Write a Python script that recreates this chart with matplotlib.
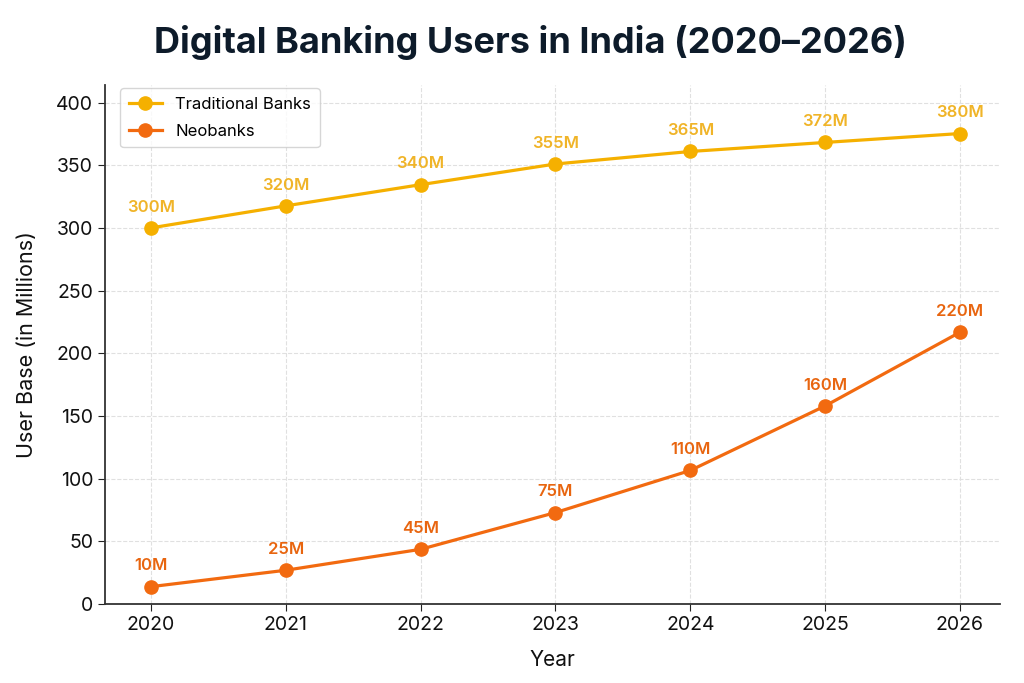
import matplotlib
matplotlib.use("Agg")
import matplotlib.pyplot as plt

years = [2020, 2021, 2022, 2023, 2024, 2025, 2026]
traditional = [300, 317.6, 334.5, 351, 361, 368.2, 375.3]
neobanks = [13.8, 26.9, 43.6, 72.9, 106.5, 158, 216.8]
traditional_labels = ["300M", "320M", "340M", "355M", "365M", "372M", "380M"]
neobank_labels = ["10M", "25M", "45M", "75M", "110M", "160M", "220M"]
yticks = [0, 50, 100, 150, 200, 250, 300, 350, 400]

plt.rcParams['font.family'] = ['Inter', 'DejaVu Sans']

c_trad = "#F5B000"
c_neo = "#F26A10"
c_trad_txt = "#F0B428"
c_neo_txt = "#E8650F"

fig = plt.figure(figsize=(10.24, 6.83), dpi=100)
ax = fig.add_axes([0.1025, 0.1157, 0.8745, 0.7598])

ax.plot(years, traditional, color=c_trad, lw=2.3, marker='o', ms=9.5, label="Traditional Banks", zorder=3)
ax.plot(years, neobanks, color=c_neo, lw=2.3, marker='o', ms=9.5, label="Neobanks", zorder=3)

for x, y, t in zip(years, traditional, traditional_labels):
    ax.annotate(t, (x, y), xytext=(0, 15), textcoords='offset points', ha='center', va='center',
                fontsize=12, fontweight='semibold', color=c_trad_txt)
for x, y, t in zip(years, neobanks, neobank_labels):
    ax.annotate(t, (x, y), xytext=(0, 15), textcoords='offset points', ha='center', va='center',
                fontsize=12, fontweight='semibold', color=c_neo_txt)

ax.set_xlim(2019.66, 2026.3)
ax.set_ylim(0, 414)
ax.set_xticks(years)
ax.set_yticks(yticks)
ax.tick_params(labelsize=14, colors="#222222", length=5)
for lbl in ax.get_xticklabels() + ax.get_yticklabels():
    lbl.set_color("#111111")
ax.grid(True, linestyle='--', color='#e0e0e0', lw=0.8)
ax.set_axisbelow(True)
ax.spines['top'].set_visible(False)
ax.spines['right'].set_visible(False)
ax.spines['left'].set_color('#333333')
ax.spines['bottom'].set_color('#333333')
ax.spines['left'].set_linewidth(1.3)
ax.spines['bottom'].set_linewidth(1.3)

ax.set_xlabel("Year", fontsize=15, color="#111111", labelpad=12)
ax.set_ylabel("User Base (in Millions)", fontsize=15.5, color="#111111", labelpad=14)

leg = ax.legend(loc='upper left', fontsize=12, frameon=True, borderpad=0.5, handlelength=2.0,
                labelspacing=0.75, bbox_to_anchor=(0.008, 1.01))
leg.get_frame().set_edgecolor('#cccccc')

fig.text(0.518, 0.938, "Digital Banking Users in India (2020–2026)", fontsize=26, fontweight='bold',
         color="#0d1b2a", ha='center', va='center')

fig.savefig("out.png", dpi=100)
